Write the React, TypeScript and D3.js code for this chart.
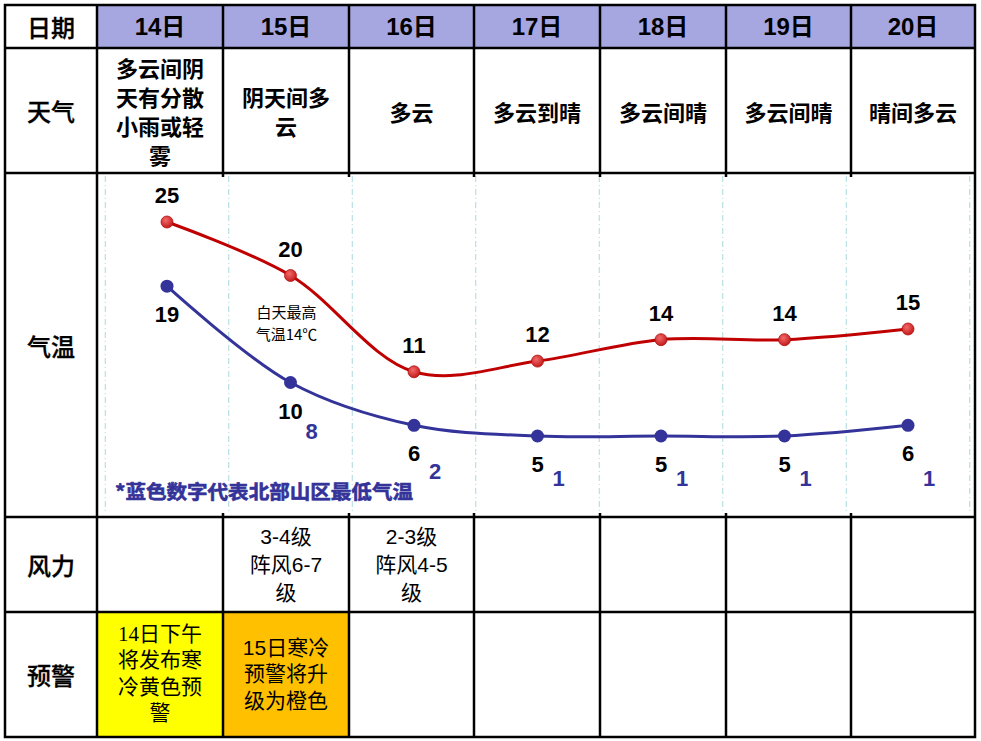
import React from "react";
import * as d3 from "d3";

const rowLabels = ["日期", "天气", "气温", "风力", "预警"];
const dates = ["14日", "15日", "16日", "17日", "18日", "19日", "20日"];
const weather = ["多云间阴天有分散小雨或轻雾", "阴天间多云", "多云", "多云到晴", "多云间晴", "多云间晴", "晴间多云"];
const highs = [25, 20, 11, 12, 14, 14, 15];
const lows = [19, 10, 6, 5, 5, 5, 6];
const mountainLows: (number | null)[] = [null, 8, 2, 1, 1, 1, 1];
const windLines: string[][] = [[], ["3-4级", "阵风6-7", "级"], ["2-3级", "阵风4-5", "级"], [], [], [], []];
const warningLines: string[][] = [
  ["14日下午", "将发布寒", "冷黄色预", "警"],
  ["15日寒冷", "预警将升", "级为橙色"],
  [], [], [], [], [],
];
const annotationLines = ["白天最高", "气温14℃"];
const noteText = "*蓝色数字代表北部山区最低气温";

const W = 981, H = 741;
const colX = [5, 97, 223, 349, 474, 600, 726, 851, 975];
const rowY = [5, 48, 173, 517, 612, 737];
const CJK = "'Noto Sans CJK SC', sans-serif";
const SANS = "'Liberation Sans', 'Noto Sans CJK SC', sans-serif";
const SERIF = "'Liberation Serif', 'Noto Sans CJK SC', serif";
const HEADER_FILL = "#A6A6E0";
const warnFill = ["#FFFF00", "#FFC000"];
const RED = "#C00000";
const BLUE = "#333399";

function chunk(s: string, n: number) {
  const out: string[] = [];
  const chars = Array.from(s);
  for (let i = 0; i < chars.length; i += n) out.push(chars.slice(i, i + n).join(""));
  return out;
}

function Lines({ lines, cx, cy, lh, ...rest }: any) {
  const n = lines.length;
  return (
    <>
      {lines.map((l: string, i: number) => (
        <text key={i} x={cx} y={cy + (i - (n - 1) / 2) * lh} textAnchor="middle" dominantBaseline="central" {...rest}>
          {l}
        </text>
      ))}
    </>
  );
}

export default function App() {
  const x = d3.scalePoint<string>().domain(dates).range([167, 908]);
  const step = x.step();
  const y = d3.scaleLinear().domain([5, 25]).range([436, 222]);
  const yM = d3.scaleLinear().domain([1, 8]).range([486, 439]);
  const line = d3
    .line<number>()
    .x((_, i) => x(dates[i])!)
    .y((d) => y(d))
    .curve(d3.curveCatmullRom.alpha(0.5));
  const gridXs = [...dates.map((d) => x(d)! - step / 2), x(dates[dates.length - 1])! + step / 2];
  const colCenter = (i: number) => (colX[i] + colX[i + 1]) / 2;
  const rowCenter = (r: number) => (rowY[r] + rowY[r + 1]) / 2;

  return (
    <svg width={W} height={H} style={{ position: "absolute", left: 0, top: 0, background: "#fff" }}>
      <defs>
        <radialGradient id="redDot" cx="40%" cy="35%" r="65%">
          <stop offset="0%" stopColor="#F26A6A" />
          <stop offset="100%" stopColor="#C41A1A" />
        </radialGradient>
      </defs>
      {/* fills */}
      <rect x={colX[1]} y={rowY[0]} width={colX[8] - colX[1]} height={rowY[1] - rowY[0]} fill={HEADER_FILL} />
      {warnFill.map((f, i) => (
        <rect key={i} x={colX[i + 1]} y={rowY[4]} width={colX[i + 2] - colX[i + 1]} height={rowY[5] - rowY[4]} fill={f} />
      ))}

      {/* gridlines in chart */}
      {gridXs.map((gx, i) => (
        <line key={i} x1={gx} x2={gx} y1={rowY[2] + 3} y2={rowY[3] - 5} stroke="#A9D9DE" strokeWidth={1} strokeDasharray="6,3,1,3" />
      ))}

      {/* table lines */}
      <g stroke="#000" strokeWidth={2.5} fill="none">
        <rect x={colX[0]} y={rowY[0]} width={colX[8] - colX[0]} height={rowY[5] - rowY[0]} />
        {rowY.slice(1, 5).map((ry, i) => (
          <line key={i} x1={colX[0]} x2={colX[8]} y1={ry} y2={ry} />
        ))}
        {colX.slice(1, 8).map((cx, i) => (
          <g key={i}>
            <line x1={cx} x2={cx} y1={rowY[0]} y2={rowY[2]} />
            <line x1={cx} x2={cx} y1={rowY[3]} y2={rowY[5]} />
            {i === 0 ? (
              <line x1={cx} x2={cx} y1={rowY[2]} y2={rowY[3]} />
            ) : (
              <>
                <line x1={cx} x2={cx} y1={rowY[2]} y2={rowY[2] + 4} />
                <line x1={cx} x2={cx} y1={rowY[3] - 4} y2={rowY[3]} />
              </>
            )}
          </g>
        ))}
      </g>

      {/* row labels */}
      {rowLabels.map((l, r) => (
        <text key={l} x={(colX[0] + colX[1]) / 2} y={rowCenter(r)} textAnchor="middle" dominantBaseline="central" fontFamily={CJK} fontSize={24} fontWeight={500} stroke="#000" strokeWidth={0.3}>
          {l}
        </text>
      ))}

      {/* header dates */}
      {dates.map((d, i) => (
        <text key={d} x={colCenter(i + 1)} y={rowCenter(0)} textAnchor="middle" dominantBaseline="central" fontFamily={SANS} fontSize={24} fontWeight="bold">
          {d}
        </text>
      ))}

      {/* weather */}
      {weather.map((w, i) => (
        <Lines key={i} lines={chunk(w, 4)} cx={colCenter(i + 1)} cy={rowCenter(1)} lh={29} fontFamily={CJK} fontSize={22} fontWeight={700} />
      ))}

      {/* wind */}
      {windLines.map((ls, i) => (
        <Lines key={i} lines={ls} cx={colCenter(i + 1)} cy={rowCenter(3)} lh={28} fontFamily={SANS} fontSize={21} />
      ))}

      {/* warnings */}
      {warningLines.map((ls, i) => (
        <Lines key={i} lines={ls} cx={colCenter(i + 1)} cy={rowCenter(4) - 1} lh={26.5} fontFamily={i === 0 ? SERIF : SANS} fontSize={21} />
      ))}

      {/* temperature lines */}
      <path d={line(highs)!} fill="none" stroke={RED} strokeWidth={3} />
      <path d={line(lows)!} fill="none" stroke={BLUE} strokeWidth={3} />
      {highs.map((v, i) => (
        <circle key={"h" + i} cx={x(dates[i])} cy={y(v)} r={6} fill="url(#redDot)" stroke="#B01010" strokeWidth={0.8} />
      ))}
      {lows.map((v, i) => (
        <circle key={"l" + i} cx={x(dates[i])} cy={y(v)} r={6.5} fill={BLUE} />
      ))}

      {/* labels */}
      {highs.map((v, i) => (
        <text key={"ht" + i} x={x(dates[i])} y={y(v) - 19} textAnchor="middle" fontFamily={SANS} fontSize={22} fontWeight="bold">
          {v}
        </text>
      ))}
      {lows.map((v, i) => (
        <text key={"lt" + i} x={x(dates[i])} y={y(v) + 36} textAnchor="middle" fontFamily={SANS} fontSize={22} fontWeight="bold">
          {v}
        </text>
      ))}
      {mountainLows.map((v, i) =>
        v == null ? null : (
          <text key={"mt" + i} x={x(dates[i])! + 21} y={yM(v)} textAnchor="middle" fontFamily={SANS} fontSize={22} fontWeight="bold" fill={BLUE}>
            {v}
          </text>
        )
      )}

      {/* annotation */}
      {annotationLines.map((l, i) => (
        <text key={l} x={x(dates[1])! - 4} y={318 + i * 22} textAnchor="middle" fontFamily={CJK} fontSize={15}>
          {l}
        </text>
      ))}

      <text x={115} y={499} fontFamily={CJK} fontSize={19.5} fontWeight="bold" fill={BLUE} stroke={BLUE} strokeWidth={0.6} textLength={298} lengthAdjust="spacingAndGlyphs">
        {noteText}
      </text>
    </svg>
  );
}
